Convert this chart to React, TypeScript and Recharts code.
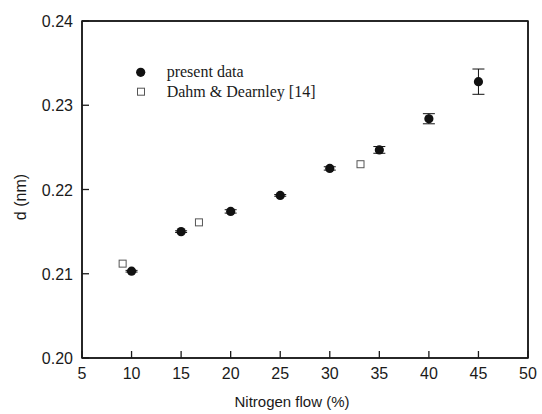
import React from 'react';
import { ScatterChart, Scatter, XAxis, YAxis, ErrorBar, Legend, ReferenceArea } from 'recharts';

// present data: nitrogen flow (%), lattice spacing d (nm), error (nm)
const presentFlow = [10, 15, 20, 25, 30, 35, 40, 45];
const presentD = [0.2103, 0.215, 0.2174, 0.2193, 0.2225, 0.2247, 0.2284, 0.2328];
const presentErr = [0.0001, 0.0001, 0.0002, 0.0001, 0.0002, 0.0004, 0.0006, 0.0015];

// Dahm & Dearnley [14]
const dahmFlow = [9.1, 16.8, 33.1];
const dahmD = [0.2112, 0.2161, 0.223];

const xMajor = [5, 10, 15, 20, 25, 30, 35, 40, 45, 50];
const xMinor = [7.5, 12.5, 17.5, 22.5, 27.5, 32.5, 37.5, 42.5, 47.5];
const yMajor = [0.2, 0.21, 0.22, 0.23, 0.24];
const yMinor = [0.205, 0.215, 0.225, 0.235];

const presentData = presentFlow.map((x, i) => ({ x, d: presentD[i], err: presentErr[i] }));
const dahmData = dahmFlow.map((x, i) => ({ x, d: dahmD[i] }));

const INK = '#1a1a1a';
const SANS = '"Liberation Sans", Arial, sans-serif';
const SERIF = '"Liberation Serif", "Times New Roman", serif';

const BottomLabel = (p: any) => (
  <text x={p.x} y={p.y + 21} textAnchor="middle" fontFamily={SANS} fontSize={16} fill={INK} stroke="none">
    {p.payload.value}
  </text>
);

const LeftLabel = (p: any) => (
  <text x={p.x - 9} y={p.y + 6} textAnchor="end" fontFamily={SANS} fontSize={16} fill={INK} stroke="none">
    {p.payload.value.toFixed(2)}
  </text>
);

const Dot = (p: any) => <circle cx={p.cx} cy={p.cy} r={4.6} fill="#111" />;
const OpenSquare = (p: any) => (
  <rect x={p.cx - 3.5} y={p.cy - 3.5} width={7} height={7} fill="#fff" stroke="#555" strokeWidth={1} />
);
const Nothing = () => <g />;

const LegendBox = () => (
  <svg width={220} height={50}>
    <circle cx={10.7} cy={12.3} r={4.6} fill="#111" />
    <text x={36.7} y={16.5} fontFamily={SERIF} fontSize={16} fill={INK}>present data</text>
    <rect x={7.5} y={28.2} width={7} height={7} fill="#fff" stroke="#555" strokeWidth={1} />
    <text x={36.7} y={36.7} fontFamily={SERIF} fontSize={16} fill={INK}>Dahm &amp; Dearnley [14]</text>
  </svg>
);

const XLabel = (props: any) => {
  const vb = props.viewBox;
  return (
    <text x={vb.x + vb.width / 2 - 13} y={407} textAnchor="middle" fontFamily={SANS} fontSize={15} fill={INK}>
      Nitrogen flow (%)
    </text>
  );
};

const YLabel = () => (
  <text x={26} y={197} transform="rotate(-90 26 197)" textAnchor="middle" fontFamily={SANS} fontSize={16} fill={INK}>
    d (nm)
  </text>
);

const tickStyle = { stroke: INK, strokeWidth: 1.3 };
const frame = { stroke: INK, strokeWidth: 1.5 };

export default function App() {
  return (
    <div style={{ position: 'absolute', left: 0, top: 0 }}>
      <ScatterChart width={542} height={414} margin={{ top: 19, right: 12, bottom: 0, left: 0 }}>
        {/* minor ticks: thin axes sitting on the plot edge, declared first so they are innermost */}
        <XAxis xAxisId="bottomMinor" dataKey="x" type="number" domain={[5, 50]} ticks={xMinor} interval={0}
          height={1} tickSize={-4} tickMargin={0} tickLine={tickStyle} axisLine={false} tick={false} />
        <XAxis xAxisId="topMinor" orientation="top" dataKey="x" type="number" domain={[5, 50]} ticks={xMinor} interval={0}
          height={1} tickSize={-4} tickMargin={0} tickLine={tickStyle} axisLine={false} tick={false} />
        <YAxis yAxisId="leftMinor" dataKey="d" type="number" domain={[0.2, 0.24]} ticks={yMinor} interval={0}
          width={1} tickSize={-5} tickMargin={0} tickLine={tickStyle} axisLine={false} tick={false} />
        <YAxis yAxisId="rightMinor" orientation="right" dataKey="d" type="number" domain={[0.2, 0.24]} ticks={yMinor} interval={0}
          width={1} tickSize={-5} tickMargin={0} tickLine={tickStyle} axisLine={false} tick={false} />

        {/* major ticks (pointing inward) and labels */}
        <XAxis
          xAxisId="bottom"
          dataKey="x"
          type="number"
          domain={[5, 50]}
          ticks={xMajor}
          interval={0}
          height={55}
          tickSize={-7}
          tickMargin={7}
          tickLine={tickStyle}
          axisLine={frame}
          tick={<BottomLabel />}
          label={<XLabel />}
        />
        <XAxis
          xAxisId="top"
          orientation="top"
          dataKey="x"
          type="number"
          domain={[5, 50]}
          ticks={xMajor}
          interval={0}
          height={1}
          tickSize={-7}
          tickMargin={0}
          tickLine={tickStyle}
          axisLine={frame}
          tick={false}
        />
        <YAxis
          yAxisId="left"
          dataKey="d"
          type="number"
          domain={[0.2, 0.24]}
          ticks={yMajor}
          interval={0}
          width={81}
          tickSize={-7}
          tickMargin={7}
          tickLine={tickStyle}
          axisLine={frame}
          tick={<LeftLabel />}
          label={<YLabel />}
        />
        <YAxis
          yAxisId="right"
          orientation="right"
          dataKey="d"
          type="number"
          domain={[0.2, 0.24]}
          ticks={yMajor}
          interval={0}
          width={1}
          tickSize={-7}
          tickMargin={0}
          tickLine={tickStyle}
          axisLine={frame}
          tick={false}
        />
        {/* plot frame */}
        <ReferenceArea
          xAxisId="bottom"
          yAxisId="left"
          x1={5}
          x2={50}
          y1={0.2}
          y2={0.24}
          fill="none"
          stroke={INK}
          strokeWidth={1.5}
          ifOverflow="visible"
        />
        <Legend
          layout="horizontal"
          verticalAlign="middle"
          align="center"
          content={<LegendBox />}
          wrapperStyle={{ left: 130, top: 60, width: 220, height: 50 }}
        />
        {/* hidden series so the minor-tick axes have data and get drawn */}
        <Scatter data={presentData} xAxisId="bottomMinor" yAxisId="leftMinor" shape={<Nothing />} legendType="none" isAnimationActive={false} />
        <Scatter data={presentData} xAxisId="topMinor" yAxisId="rightMinor" shape={<Nothing />} legendType="none" isAnimationActive={false} />
        <Scatter
          name="present data"
          data={presentData}
          xAxisId="bottom"
          yAxisId="left"
          shape={<Dot />}
          isAnimationActive={false}
        >
          <ErrorBar dataKey="err" direction="y" width={6} stroke="#111" strokeWidth={1} isAnimationActive={false} />
        </Scatter>
        {/* same domains on top/right, so these land where bottom/left would put them */}
        <Scatter
          name="Dahm & Dearnley [14]"
          data={dahmData}
          xAxisId="top"
          yAxisId="right"
          shape={<OpenSquare />}
          isAnimationActive={false}
        />
      </ScatterChart>
    </div>
  );
}
